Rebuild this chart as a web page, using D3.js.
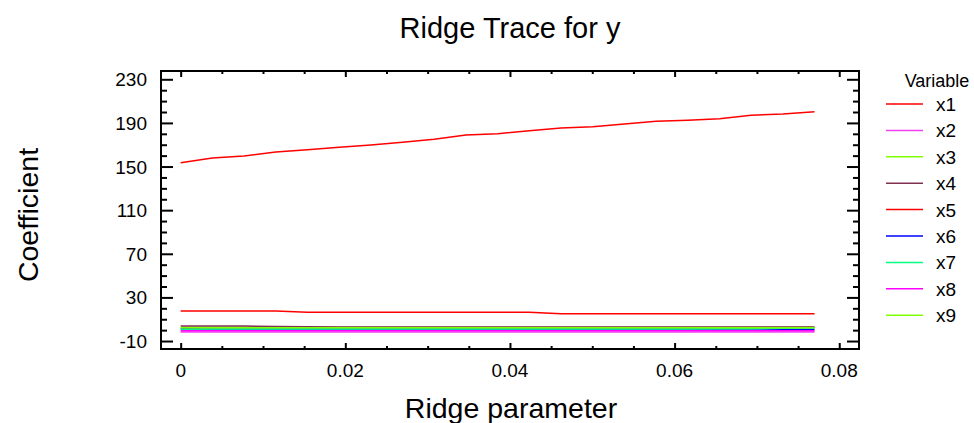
<!DOCTYPE html>
<html>
<head>
<meta charset="utf-8">
<script src="https://cdn.jsdelivr.net/npm/d3@7"></script>
<style>
  html, body { margin: 0; padding: 0; background: #fff; }
  svg { display: block; }
  text { font-family: "Liberation Sans", Arial, sans-serif; fill: #000; }
</style>
</head>
<body>
<svg id="chart" width="974" height="423"></svg>
<script>
// ---------- data ----------
const ridgeK = [0, 0.00385, 0.0077, 0.01155, 0.0154, 0.01925, 0.0231, 0.02695, 0.0308, 0.03465,
                0.0385, 0.04235, 0.0462, 0.05005, 0.0539, 0.05775, 0.0616, 0.06545, 0.0693, 0.07315, 0.077];
const variables = ["x1", "x2", "x3", "x4", "x5", "x6", "x7", "x8", "x9"];
const colors = ["#ff0000", "#f040f0", "#80ff00", "#803050", "#ff0000", "#0000ff", "#00ff80", "#ff00ff", "#80ff00"];
const x1 = [153.5, 157.8, 159.7, 163.3, 165.5, 167.6, 169.8, 172.2, 175.0, 178.9,
            180.1, 182.9, 185.3, 186.5, 189.0, 191.5, 192.4, 193.9, 197.0, 198.2, 200.3];
const x2 = [-1.6, -1.6, -1.6, -1.6, -1.6, -1.6, -1.6, -1.6, -1.6, -1.6,
            -1.6, -1.6, -1.6, -1.6, -1.6, -1.6, -1.6, -1.6, -1.6, -1.6, -1.6];
const x3 = [2.6, 2.6, 2.6, 2.6, 2.6, 2.6, 2.6, 2.6, 2.6, 2.6,
            2.6, 2.6, 2.6, 2.6, 2.6, 2.6, 2.6, 2.6, 2.6, 2.6, 2.6];
const x4 = [3.8, 3.8, 3.7, 3.4, 3.0, 2.9, 2.9, 2.9, 2.9, 2.9,
            2.9, 2.9, 2.9, 2.9, 2.9, 2.9, 2.9, 2.9, 2.9, 2.9, 2.9];
const x5 = [17.5, 17.5, 17.5, 17.5, 16.3, 16.3, 16.3, 16.3, 16.3, 16.3,
            16.3, 16.3, 15.0, 15.0, 15.0, 15.0, 15.0, 15.0, 15.0, 15.0, 15.0];
const x6 = [1.2, 1.1, 1.0, 1.0, 1.0, 1.0, 1.0, 1.0, 1.0, 1.0,
            1.0, 1.0, 1.0, 1.0, 1.0, 1.0, 1.0, 1.0, 1.0, 0.9, 0.8];
const x7 = [0.7, 1.0, 1.1, 1.1, 1.1, 1.1, 1.1, 1.1, 1.1, 1.1,
            1.1, 1.1, 1.1, 1.1, 1.1, 1.1, 1.1, 1.2, 1.3, 1.7, 2.2];
const x8 = [-0.6, -0.6, -0.6, -0.6, -0.6, -0.6, -0.6, -0.6, -0.6, -0.6,
            -0.6, -0.6, -0.6, -0.6, -0.6, -0.6, -0.6, -0.6, -0.6, -0.6, -0.6];
const x9 = [2.2, 2.2, 2.2, 2.2, 2.2, 2.2, 2.2, 2.2, 2.2, 2.2,
            2.2, 2.2, 2.2, 2.2, 2.2, 2.2, 2.2, 2.2, 2.2, 2.2, 2.2];
const seriesValues = [x1, x2, x3, x4, x5, x6, x7, x8, x9];
const xTickValues = [0, 0.02, 0.04, 0.06, 0.08];
const xTickLabels = ["0", "0.02", "0.04", "0.06", "0.08"];
const yTickValues = [-10, 30, 70, 110, 150, 190, 230];
const yTickLabels = ["-10", "30", "70", "110", "150", "190", "230"];
const titleText = "Ridge Trace for y";
const xTitle = "Ridge parameter";
const yTitle = "Coefficient";
const legendTitle = "Variable";

// ---------- layout ----------
const L = 161, R = 859, T = 71, B = 349;
const svg = d3.select("#chart");

const x = d3.scaleLinear().domain([-0.00239, 0.0824]).range([L, R]);
const y = d3.scaleLinear().domain([-17.3, 237.6]).range([B, T]);

const xMinor = d3.range(0, 0.0826, 0.005).filter(v => !xTickValues.some(t => Math.abs(t - v) < 1e-9));
const yMinor = d3.range(-10, 231, 10).filter(v => !yTickValues.includes(v));

// series lines (clip)
svg.append("clipPath").attr("id", "clip").append("rect")
  .attr("x", L).attr("y", T).attr("width", R - L).attr("height", B - T);

const line = d3.line().x((d, i) => x(ridgeK[i])).y(d => y(d));
const g = svg.append("g").attr("clip-path", "url(#clip)");
seriesValues.forEach((vals, i) => {
  g.append("path").datum(vals)
    .attr("d", line)
    .attr("fill", "none")
    .attr("stroke", colors[i])
    .attr("stroke-width", 1.5);
});

// axes (ticks pointing inward)
function styleAxis(sel) {
  sel.select(".domain").remove();
  sel.selectAll("line").attr("stroke", "#000").attr("stroke-width", 2);
}
svg.append("g").attr("transform", `translate(0,${B})`)
  .call(d3.axisTop(x).tickValues(xTickValues).tickSize(6).tickFormat(() => ""))
  .call(styleAxis);
svg.append("g").attr("transform", `translate(0,${B})`)
  .call(d3.axisTop(x).tickValues(xMinor).tickSize(3).tickFormat(() => ""))
  .call(styleAxis);
svg.append("g").attr("transform", `translate(0,${T})`)
  .call(d3.axisBottom(x).tickValues(xTickValues).tickSize(6).tickFormat(() => ""))
  .call(styleAxis);
svg.append("g").attr("transform", `translate(0,${T})`)
  .call(d3.axisBottom(x).tickValues(xMinor).tickSize(3).tickFormat(() => ""))
  .call(styleAxis);
svg.append("g").attr("transform", `translate(${L},0)`)
  .call(d3.axisRight(y).tickValues(yTickValues).tickSize(12).tickFormat(() => ""))
  .call(styleAxis);
svg.append("g").attr("transform", `translate(${L},0)`)
  .call(d3.axisRight(y).tickValues(yMinor).tickSize(6).tickFormat(() => ""))
  .call(styleAxis);
svg.append("g").attr("transform", `translate(${R},0)`)
  .call(d3.axisLeft(y).tickValues(yTickValues).tickSize(12).tickFormat(() => ""))
  .call(styleAxis);
svg.append("g").attr("transform", `translate(${R},0)`)
  .call(d3.axisLeft(y).tickValues(yMinor).tickSize(6).tickFormat(() => ""))
  .call(styleAxis);

// frame
svg.append("rect").attr("x", L).attr("y", T).attr("width", R - L).attr("height", B - T)
  .attr("fill", "none").attr("stroke", "#000").attr("stroke-width", 2);

// tick labels
svg.append("g").selectAll("text").data(xTickValues).join("text")
  .attr("x", d => x(d)).attr("y", 377)
  .attr("text-anchor", "middle").attr("font-size", 19)
  .text((d, i) => xTickLabels[i]);
svg.append("g").selectAll("text").data(yTickValues).join("text")
  .attr("x", 147).attr("y", d => y(d) + 7)
  .attr("text-anchor", "end").attr("font-size", 19)
  .text((d, i) => yTickLabels[i]);

// titles
svg.append("text").attr("x", 510).attr("y", 38).attr("text-anchor", "middle")
  .attr("font-size", 29).text(titleText);
svg.append("text").attr("x", 511).attr("y", 418).attr("text-anchor", "middle")
  .attr("font-size", 28.5).text(xTitle);
svg.append("text").attr("transform", "translate(38,215) rotate(-90)").attr("text-anchor", "middle")
  .attr("font-size", 28.5).text(yTitle);

// legend
svg.append("text").attr("x", 937).attr("y", 87).attr("text-anchor", "middle")
  .attr("font-size", 18).text(legendTitle);
const lg = svg.append("g");
variables.forEach((v, i) => {
  const yy = 104 + i * 26.4;
  lg.append("line").attr("x1", 886).attr("x2", 923).attr("y1", yy).attr("y2", yy)
    .attr("stroke", colors[i]).attr("stroke-width", 1.5);
  lg.append("text").attr("x", 936).attr("y", yy + 7).attr("font-size", 19).text(v);
});
</script>
</body>
</html>
